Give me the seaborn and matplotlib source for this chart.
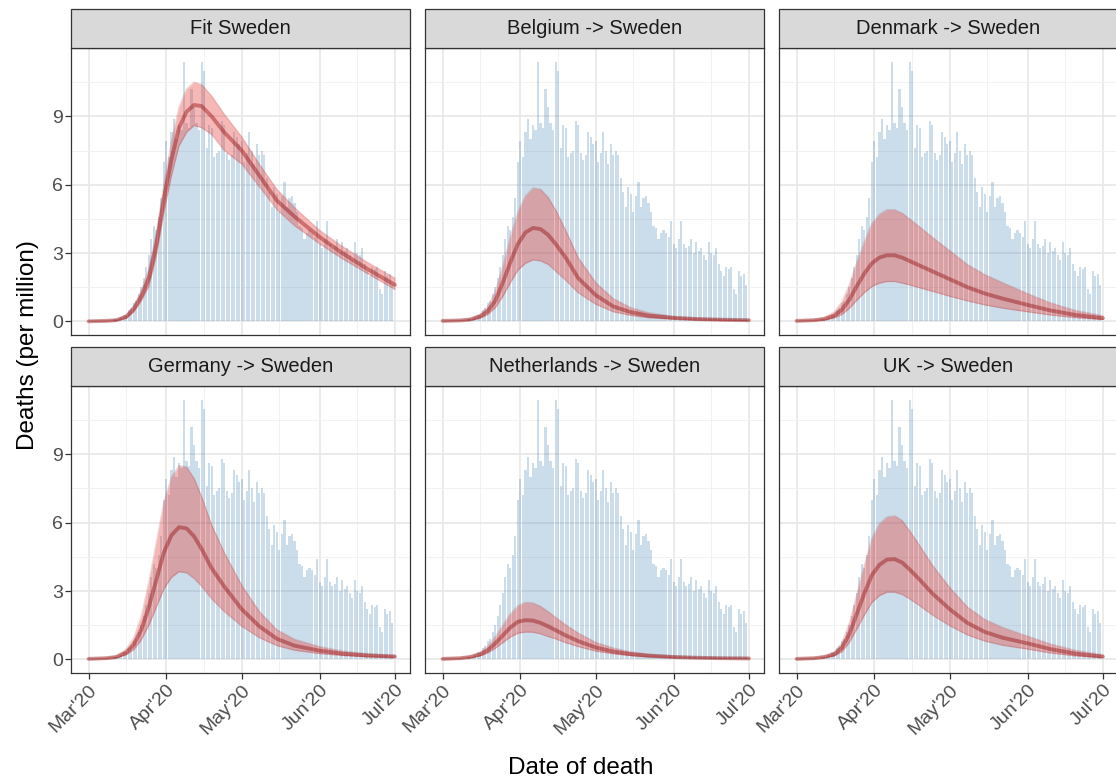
import numpy as np
import pandas as pd
import seaborn as sns
import matplotlib
matplotlib.use("Agg")
import matplotlib.pyplot as plt
import matplotlib.dates as mdates
from matplotlib.patches import Rectangle
from matplotlib.ticker import MultipleLocator, FixedLocator

# observed daily deaths per million in Sweden, 11 Mar - 30 Jun 2020
obs_mar = [0.1, 0.1, 0.1, 0.2, 0.3, 0.3, 0.5, 0.6, 0.8, 0.9, 1.2, 1.5, 1.9, 2.4, 2.9, 3.6, 4.2, 4.0, 4.6, 5.4, 7.0]
obs_apr = [7.9, 7.2, 8.3, 8.9, 8.0, 8.6, 8.4, 11.4, 8.7, 8.5, 10.2, 9.4, 8.7, 8.4, 11.4, 11.0, 7.6, 8.6, 8.5, 7.2,
           7.4, 7.5, 8.8, 8.6, 7.4, 7.1, 7.3, 8.3, 8.1, 7.8]
obs_may = [7.9, 7.0, 7.4, 8.3, 7.5, 6.9, 7.8, 7.3, 7.5, 7.3, 6.3, 5.7, 5.0, 5.9, 5.6, 4.8, 5.5, 6.1, 5.0, 5.4,
           5.5, 5.2, 4.8, 4.2, 4.1, 3.6, 3.9, 4.0, 3.9, 3.7, 4.4]
obs_jun = [3.4, 3.2, 3.6, 4.4, 3.4, 3.2, 3.3, 3.6, 3.0, 3.5, 3.1, 3.2, 2.9, 2.7, 3.5, 3.0, 2.9, 3.2, 2.5, 2.2,
           2.0, 2.4, 2.3, 2.4, 1.4, 1.2, 2.2, 2.0, 2.1, 1.6]
obs_dates = pd.date_range("2020-03-11", "2020-06-30", freq="D")
obs_vals = obs_mar + obs_apr + obs_may + obs_jun

# modelled curves (mean, lower, upper) read at these dates
curve_dates = pd.to_datetime(["2020-03-01", "2020-03-08", "2020-03-12", "2020-03-16", "2020-03-19", "2020-03-22",
                              "2020-03-25", "2020-03-28", "2020-03-31", "2020-04-03", "2020-04-06", "2020-04-09",
                              "2020-04-12", "2020-04-15", "2020-04-19", "2020-04-24", "2020-05-01", "2020-05-08",
                              "2020-05-15", "2020-05-22", "2020-06-01", "2020-06-10", "2020-06-20", "2020-07-01"])

panels = ["Fit Sweden", "Belgium -> Sweden", "Denmark -> Sweden",
          "Germany -> Sweden", "Netherlands -> Sweden", "UK -> Sweden"]

fit_mean = [0.0, 0.02, 0.05, 0.2, 0.55, 1.1, 1.9, 3.4, 5.4, 7.1, 8.5, 9.2, 9.5, 9.45, 9.0, 8.3, 7.5, 6.4, 5.3, 4.6, 3.7, 3.0, 2.3, 1.6]
fit_lo = [0.0, 0.01, 0.03, 0.14, 0.42, 0.9, 1.55, 2.9, 4.8, 6.4, 7.7, 8.3, 8.6, 8.5, 8.2, 7.5, 6.9, 5.9, 4.9, 4.2, 3.4, 2.75, 2.1, 1.4]
fit_hi = [0.02, 0.04, 0.08, 0.28, 0.7, 1.35, 2.3, 3.9, 6.0, 7.9, 9.4, 10.2, 10.5, 10.4, 9.9, 9.1, 8.1, 6.9, 5.8, 5.0, 4.0, 3.3, 2.6, 1.9]

bel_mean = [0.02, 0.04, 0.08, 0.22, 0.45, 0.9, 1.7, 2.6, 3.4, 3.9, 4.1, 4.05, 3.8, 3.4, 2.8, 1.9, 1.15, 0.65, 0.4, 0.25, 0.15, 0.1, 0.07, 0.05]
bel_lo = [0.01, 0.03, 0.05, 0.14, 0.3, 0.6, 1.1, 1.7, 2.25, 2.55, 2.7, 2.65, 2.5, 2.2, 1.8, 1.25, 0.75, 0.42, 0.26, 0.16, 0.1, 0.06, 0.04, 0.03]
bel_hi = [0.03, 0.06, 0.12, 0.32, 0.65, 1.3, 2.4, 3.7, 4.8, 5.5, 5.85, 5.8, 5.45, 4.9, 4.0, 2.8, 1.7, 1.0, 0.6, 0.38, 0.22, 0.15, 0.1, 0.07]

den_mean = [0.02, 0.05, 0.1, 0.25, 0.5, 0.95, 1.55, 2.1, 2.55, 2.8, 2.9, 2.9, 2.8, 2.65, 2.45, 2.2, 1.85, 1.5, 1.22, 1.0, 0.72, 0.48, 0.28, 0.14]
den_lo = [0.01, 0.03, 0.06, 0.15, 0.3, 0.57, 0.93, 1.26, 1.53, 1.68, 1.75, 1.75, 1.68, 1.6, 1.47, 1.32, 1.1, 0.9, 0.72, 0.58, 0.42, 0.28, 0.16, 0.08]
den_hi = [0.03, 0.08, 0.17, 0.42, 0.85, 1.6, 2.6, 3.5, 4.3, 4.7, 4.9, 4.9, 4.75, 4.5, 4.15, 3.7, 3.1, 2.5, 2.05, 1.7, 1.22, 0.82, 0.48, 0.25]

ger_mean = [0.02, 0.05, 0.1, 0.3, 0.65, 1.3, 2.3, 3.5, 4.7, 5.45, 5.8, 5.75, 5.4, 4.85, 4.0, 3.2, 2.2, 1.45, 0.9, 0.6, 0.38, 0.25, 0.17, 0.12]
ger_lo = [0.01, 0.03, 0.07, 0.2, 0.43, 0.86, 1.5, 2.3, 3.1, 3.6, 3.85, 3.8, 3.55, 3.2, 2.65, 2.1, 1.45, 0.95, 0.6, 0.4, 0.25, 0.17, 0.11, 0.08]
ger_hi = [0.03, 0.07, 0.15, 0.45, 0.95, 1.9, 3.4, 5.15, 6.9, 8.0, 8.5, 8.45, 7.95, 7.15, 5.9, 4.7, 3.25, 2.1, 1.3, 0.88, 0.56, 0.37, 0.25, 0.18]

nld_mean = [0.02, 0.05, 0.1, 0.22, 0.4, 0.7, 1.05, 1.4, 1.65, 1.72, 1.7, 1.6, 1.45, 1.28, 1.05, 0.8, 0.52, 0.34, 0.23, 0.16, 0.1, 0.07, 0.05, 0.04]
nld_lo = [0.01, 0.03, 0.07, 0.15, 0.28, 0.49, 0.74, 0.98, 1.15, 1.2, 1.19, 1.12, 1.0, 0.9, 0.73, 0.56, 0.36, 0.24, 0.16, 0.11, 0.07, 0.05, 0.035, 0.03]
nld_hi = [0.03, 0.07, 0.15, 0.32, 0.58, 1.0, 1.5, 2.0, 2.35, 2.5, 2.48, 2.33, 2.1, 1.85, 1.52, 1.16, 0.75, 0.5, 0.33, 0.23, 0.15, 0.1, 0.07, 0.06]

uk_mean = [0.02, 0.05, 0.1, 0.22, 0.5, 1.1, 2.0, 2.9, 3.7, 4.15, 4.38, 4.4, 4.25, 3.95, 3.5, 2.9, 2.2, 1.6, 1.2, 0.95, 0.7, 0.45, 0.25, 0.12]
uk_lo = [0.01, 0.03, 0.07, 0.15, 0.33, 0.74, 1.34, 1.95, 2.5, 2.8, 2.95, 2.95, 2.85, 2.65, 2.35, 1.95, 1.47, 1.07, 0.8, 0.62, 0.45, 0.28, 0.15, 0.07]
uk_hi = [0.03, 0.07, 0.15, 0.32, 0.72, 1.6, 2.85, 4.15, 5.3, 5.95, 6.25, 6.3, 6.1, 5.65, 5.0, 4.15, 3.15, 2.3, 1.75, 1.4, 1.02, 0.68, 0.4, 0.2]

curve_sets = [(fit_mean, fit_lo, fit_hi), (bel_mean, bel_lo, bel_hi), (den_mean, den_lo, den_hi),
              (ger_mean, ger_lo, ger_hi), (nld_mean, nld_lo, nld_hi), (uk_mean, uk_lo, uk_hi)]

rows = []
for name, (m, lo, hi) in zip(panels, curve_sets):
    for d, a, b, c in zip(curve_dates, m, lo, hi):
        rows.append({"panel": name, "date": d, "mean": a, "lo": b, "hi": c})
curves = pd.DataFrame(rows)
obs = pd.DataFrame({"date": obs_dates, "deaths": obs_vals})

sns.set_style("white")
plt.rcParams["font.family"] = ["Liberation Sans", "DejaVu Sans"]


def draw_panel(data, **kws):
    ax = plt.gca()
    ax.bar(obs["date"], obs["deaths"], width=0.85, color="steelblue", alpha=0.28, linewidth=0, zorder=2)
    ax.fill_between(data["date"], data["lo"], data["hi"], color="#e8362f", alpha=0.35, linewidth=0, zorder=3)
    ax.plot(data["date"], data["lo"], color="darkred", alpha=0.15, lw=1.0, zorder=4)
    ax.plot(data["date"], data["hi"], color="darkred", alpha=0.15, lw=1.0, zorder=4)
    sns.lineplot(data=data, x="date", y="mean", color="darkred", alpha=0.4, lw=2.8, ax=ax, zorder=5)


g = sns.FacetGrid(curves, col="panel", col_wrap=3, col_order=panels, sharex=True, sharey=True,
                  height=3, aspect=1.2)
g.map_dataframe(draw_panel)
fig = g.figure
fig.set_size_inches(11.16, 7.82)

W, H = 1116.0, 782.0
lefts = [71, 425, 779]
tops = [48, 386]
pw, ph = 339, 287
strip_h = 39

for i, ax in enumerate(g.axes.flat):
    r, c = divmod(i, 3)
    ax.set_position([lefts[c] / W, 1 - (tops[r] + ph) / H, pw / W, ph / H])
    ax.set_title("")
    ax.set_xlabel("")
    ax.set_ylabel("")
    ax.set_xlim(pd.Timestamp("2020-02-23"), pd.Timestamp("2020-07-07"))
    ax.set_ylim(-0.6, 12.0)
    ax.yaxis.set_major_locator(FixedLocator([0, 3, 6, 9]))
    ax.yaxis.set_minor_locator(FixedLocator([1.5, 4.5, 7.5, 10.5]))
    ax.xaxis.set_major_locator(mdates.MonthLocator())
    ax.xaxis.set_minor_locator(mdates.MonthLocator(bymonthday=16))
    ax.xaxis.set_major_formatter(mdates.DateFormatter("%b'%y"))
    ax.grid(which="major", color="#e6e6e6", lw=1.1, zorder=0)
    ax.grid(which="minor", color="#f0f0f0", lw=0.6, zorder=0)
    ax.set_axisbelow(True)
    for s in ax.spines.values():
        s.set_visible(True)
        s.set_color("#333333")
        s.set_linewidth(0.9)
    ax.tick_params(which="major", length=4, width=0.9, color="#333333", labelsize=14,
                   labelcolor="#4d4d4d", pad=2)
    ax.tick_params(which="minor", length=0)
    ax.tick_params(axis="x", bottom=(r == 1), labelbottom=(r == 1))
    ax.tick_params(axis="y", left=(c == 0), labelleft=(c == 0))
    if r == 1:
        for lab in ax.get_xticklabels():
            lab.set_rotation(45)
            lab.set_ha("right")
            lab.set_rotation_mode("anchor")
    ax.add_patch(Rectangle((0, 1), 1, strip_h / ph, transform=ax.transAxes, clip_on=False,
                           facecolor="#d9d9d9", edgecolor="#333333", lw=0.9, zorder=10))
    ax.text(0.5, 1 + strip_h / ph / 2, panels[i], transform=ax.transAxes, ha="center", va="center",
            fontsize=14.5, color="#1a1a1a", zorder=11)

fig.text(28 / W, 1 - 345 / H, "Deaths (per million)", rotation=90, ha="center", va="center",
         fontsize=17.5, color="black")
fig.text(581 / W, 1 - 768 / H, "Date of death", ha="center", va="center", fontsize=17.5, color="black")

fig.savefig("out.png", dpi=100)
